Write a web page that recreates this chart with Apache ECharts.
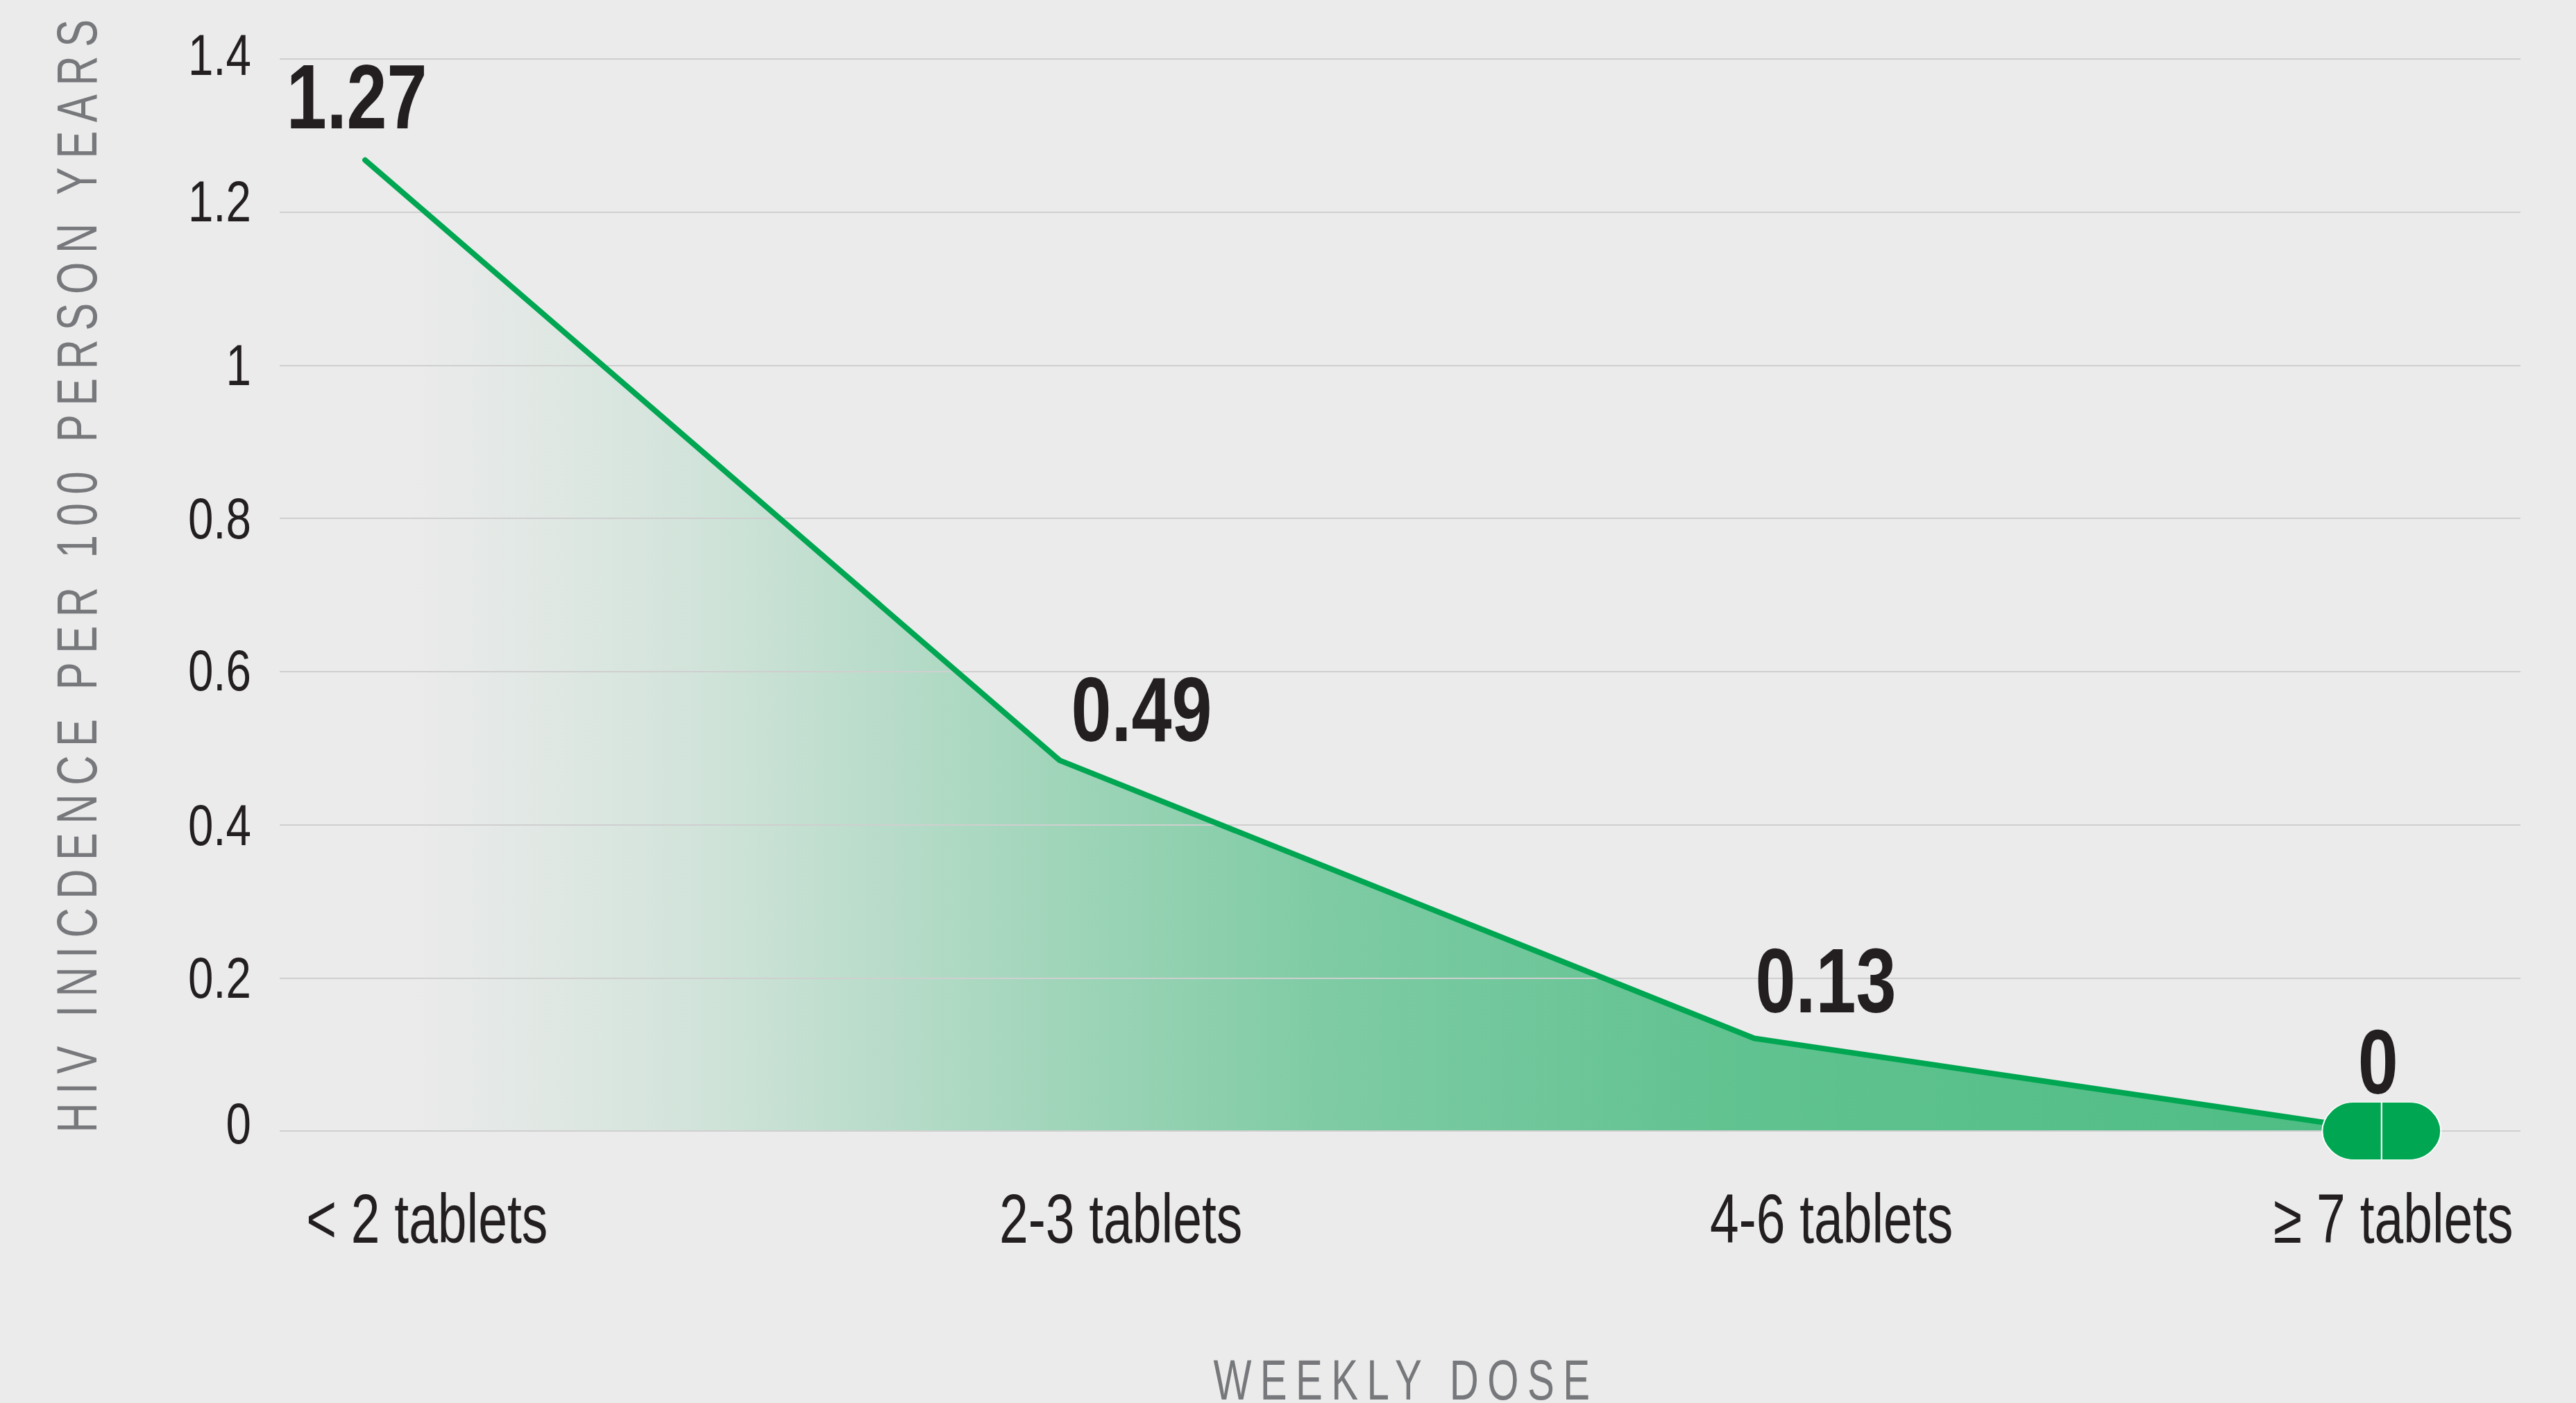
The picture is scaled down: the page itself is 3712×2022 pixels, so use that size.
<!DOCTYPE html>
<html>
<head>
<meta charset="utf-8">
<style>
html, body { margin: 0; padding: 0; background: #ebebeb; }
#main { width: 3712px; height: 2022px; }
/* axis titles are widely tracked */
#main text[style*="82px"] { letter-spacing: 17.5px; }
</style>
<script src="https://cdn.jsdelivr.net/npm/echarts@6/dist/echarts.min.js"></script>
</head>
<body>
<div id="main"></div>
<script>
var doseLabels = ['< 2 tablets', '2-3 tablets', '4-6 tablets', '≥ 7 tablets'];
var doseLabelTicks = [0.089, 1.088, 2.111, 2.92];
var doseX = [0, 1, 2, 2.903];
var incidence = [1.268, 0.484, 0.121, 0];
var incidenceText = ['1.27', '0.49', '0.13', '0'];
var yTicks = [0, 0.2, 0.4, 0.6, 0.8, 1, 1.2, 1.4];
var yTickText = ['0', '0.2', '0.4', '0.6', '0.8', '1', '1.2', '1.4'];

// no condensed font is installed, so text is squeezed sideways
var font = '"Liberation Sans", sans-serif';
var black = '#231f20';
var grey = '#77787b';
var green = '#00a651';

var yNudge = [-11, 0, 0, -2, 0, 0, -16, -6];
var labelOffset = [[-12, -92], [118, -74], [103, -84], [-5, -100]];

var pill = 'path://M85.5,0 L45,0 C18,0 0,22 0,41.5 C0,61 18,83 45,83 L85.5,83 Z ' +
    'M85.5,0 L126,0 C153,0 171,22 171,41.5 C171,61 153,83 126,83 L85.5,83 Z';

function textEl(text, x, y, size, weight, align, squeeze) {
    return {
        type: 'text',
        x: x,
        y: y,
        scaleX: squeeze,
        silent: true,
        style: {
            text: text,
            fill: black,
            fontFamily: font,
            fontSize: size,
            fontWeight: weight,
            align: align,
            verticalAlign: 'middle'
        }
    };
}

function titleEl(text, x, y, rotation, squeeze) {
    return {
        type: 'text',
        x: x,
        y: y,
        rotation: rotation,
        scaleX: squeeze,
        silent: true,
        style: {
            text: text,
            fill: grey,
            fontFamily: font,
            fontSize: 82,
            align: 'center',
            verticalAlign: 'middle'
        }
    };
}

var linePoints = [];
var yTickPoints = [];
var xTickPoints = [];
for (var i = 0; i < incidence.length; i++) {
    linePoints.push({
        value: [doseX[i], incidence[i]],
        symbol: i == incidence.length - 1 ? pill : 'none'
    });
}
for (var j = 0; j < yTicks.length; j++) {
    yTickPoints.push([-0.123, yTicks[j]]);
}
for (var k = 0; k < doseLabelTicks.length; k++) {
    xTickPoints.push([doseLabelTicks[k], 0]);
}

var myChart = echarts.init(document.getElementById('main'), null, {renderer: 'svg'});
myChart.setOption({
    backgroundColor: '#ebebeb',
    animation: false,
    grid: {left: 403, right: 80, top: 85, bottom: 392},
    xAxis: {
        type: 'value',
        min: -0.123,
        max: 3.103,
        splitLine: {show: false},
        axisLine: {show: false},
        axisTick: {show: false},
        axisLabel: {show: false}
    },
    yAxis: {
        type: 'value',
        min: 0,
        max: 1.4,
        interval: 0.2,
        z: 2,
        axisLine: {show: false},
        axisTick: {show: false},
        axisLabel: {show: false},
        splitLine: {lineStyle: {color: '#cfcfcf', width: 2}}
    },
    graphic: [
        titleEl('HIV INICDENCE PER 100 PERSON YEARS', 110, 824, Math.PI / 2, 0.727),
        titleEl('WEEKLY DOSE', 2026, 1989, 0, 0.71)
    ],
    series: [{
        // fill sits under the grid lines, the line over them
        type: 'line',
        data: linePoints,
        symbol: 'none',
        lineStyle: {width: 0},
        z: 1,
        areaStyle: {
            origin: 'start',
            opacity: 1,
            color: new echarts.graphic.LinearGradient(0, 0, 1, 0, [
                {offset: 0.02, color: 'rgba(0,166,81,0)'},
                {offset: 0.094, color: 'rgba(0,166,81,0.05)'},
                {offset: 0.175, color: 'rgba(0,166,81,0.12)'},
                {offset: 0.344, color: 'rgba(0,166,81,0.32)'},
                {offset: 0.473, color: 'rgba(0,166,81,0.46)'},
                {offset: 0.68, color: 'rgba(0,166,81,0.59)'},
                {offset: 0.92, color: 'rgba(0,166,81,0.65)'},
                {offset: 1, color: 'rgba(0,166,81,0.68)'}
            ])
        }
    }, {
        type: 'line',
        data: linePoints,
        symbolSize: [171, 83],
        itemStyle: {color: green, borderColor: '#ffffff', borderWidth: 1.5},
        lineStyle: {color: green, width: 8, cap: 'round'},
        z: 3
    }, {
        type: 'custom',
        data: yTickPoints,
        z: 4,
        renderItem: function (params, api) {
            var p = api.coord([api.value(0), api.value(1)]);
            var n = params.dataIndex;
            return textEl(yTickText[n], p[0] - 41, p[1] + yNudge[n], 84, 'normal', 'right', 0.78);
        }
    }, {
        type: 'custom',
        data: xTickPoints,
        z: 4,
        renderItem: function (params, api) {
            var p = api.coord([api.value(0), api.value(1)]);
            return textEl(doseLabels[params.dataIndex], p[0], p[1] + 126, 100, 'normal', 'center', 0.75);
        }
    }, {
        type: 'custom',
        data: linePoints,
        z: 4,
        renderItem: function (params, api) {
            var p = api.coord([api.value(0), api.value(1)]);
            var o = labelOffset[params.dataIndex];
            return textEl(incidenceText[params.dataIndex], p[0] + o[0], p[1] + o[1], 132, 'bold', 'center', 0.79);
        }
    }]
});
</script>
</body>
</html>
